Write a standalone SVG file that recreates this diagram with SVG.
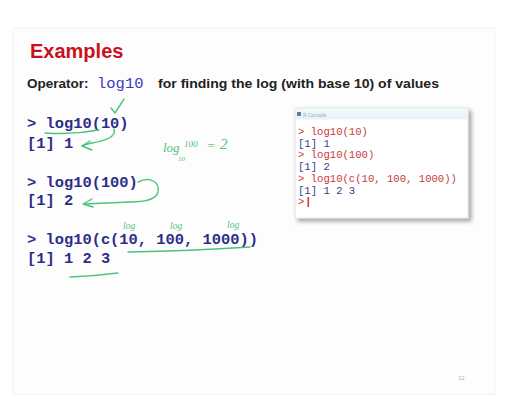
<svg xmlns="http://www.w3.org/2000/svg" width="507" height="403" viewBox="0 0 507 403">
  <defs>
    <filter id="shadow" x="-10%" y="-10%" width="125%" height="130%">
      <feDropShadow dx="3" dy="3" stdDeviation="2" flood-color="#000" flood-opacity="0.35"/>
    </filter>
    <linearGradient id="titlebar" x1="0" y1="0" x2="0" y2="1">
      <stop offset="0" stop-color="#f3fafd"/>
      <stop offset="1" stop-color="#e6f2f8"/>
    </linearGradient>
  </defs>
  <style>
    .title { font-family: "Liberation Sans", Arial, sans-serif; font-weight: bold; font-size: 20px; fill: #c8101e; }
    .body { font-family: "Liberation Sans", Arial, sans-serif; font-weight: bold; font-size: 13.5px; fill: #222; }
    .op { font-family: "Liberation Mono", "Courier New", monospace; font-size: 15.5px; fill: #3a3ac8; }
    .code { font-family: "Liberation Mono", "Courier New", monospace; font-weight: bold; font-size: 15.4px; fill: #2e2e8a; }
    .con { font-family: "Liberation Mono", "Courier New", monospace; font-size: 10.6px; }
    .cmd { fill: #c83a3a; }
    .out { fill: #34408a; }
    .ink { fill: none; stroke: #4cc478; stroke-width: 1.4; stroke-linecap: round; stroke-linejoin: round; }
    .inktxt { font-family: "Liberation Serif", serif; font-style: italic; fill: #4cc478; }
  </style>

  <!-- slide background -->
  <rect x="0" y="0" width="507" height="403" fill="#ffffff"/>
  <rect x="13" y="28" width="482" height="366" fill="#fdfdfd" stroke="#f2f2f2" stroke-width="1"/>

  <!-- heading -->
  <g id="heading">
    <text class="title" x="30" y="58">Examples</text>
    <text class="body" x="27" y="88">Operator:</text>
    <text class="op" x="97" y="88">log10</text>
    <text class="body" x="158" y="88" textLength="281" lengthAdjust="spacingAndGlyphs">for finding the log (with base 10) of values</text>
  </g>

  <!-- code examples -->
  <g id="example1">
    <text class="code" x="27" y="128" xml:space="preserve">&gt; log10(10)</text>
    <text class="code" x="27" y="148">[1] 1</text>
  </g>
  <g id="example2">
    <text class="code" x="27" y="187" xml:space="preserve">&gt; log10(100)</text>
    <text class="code" x="27" y="205">[1] 2</text>
  </g>
  <g id="example3">
    <text class="code" x="27" y="244" xml:space="preserve">&gt; log10(c(10, 100, 1000))</text>
    <text class="code" x="27" y="263" xml:space="preserve">[1] 1 2 3</text>
  </g>

  <!-- R console window -->
  <g id="console">
    <rect x="295" y="108" width="173" height="110" fill="#ffffff" stroke="#d6e4ec" stroke-width="1" filter="url(#shadow)"/>
    <rect x="295.5" y="108.5" width="172" height="11" fill="url(#titlebar)"/>
    <rect x="297" y="112" width="4" height="4" fill="#5a7ea8"/>
    <text x="303" y="116.5" font-family="Liberation Sans, Arial, sans-serif" font-size="5" fill="#9aa8b4">R Console</text>
    <text class="con cmd" x="298" y="135" xml:space="preserve">&gt; log10(10)</text>
    <text class="con out" x="298" y="146.5" xml:space="preserve">[1] 1</text>
    <text class="con cmd" x="298" y="158" xml:space="preserve">&gt; log10(100)</text>
    <text class="con out" x="298" y="170" xml:space="preserve">[1] 2</text>
    <text class="con cmd" x="298" y="182" xml:space="preserve">&gt; log10(c(10, 100, 1000))</text>
    <text class="con out" x="298" y="194" xml:space="preserve">[1] 1 2 3</text>
    <text class="con cmd" x="298" y="205">&gt;</text>
    <rect x="307.5" y="197" width="1.6" height="10" fill="#d23a3a"/>
  </g>

  <!-- pen annotations -->
  <g id="annotations">
    <path class="ink" d="M111,108 L115,113 L124,99"/>
    <path class="ink" d="M45,133 Q72,135 99,130"/>
    <path class="ink" d="M114,129 C117,137 104,141 92,143 Q86,144 82,146"/>
    <path class="ink" d="M90,141 L82,146 L92,150"/>
    <text class="inktxt" x="163" y="152" font-size="13">log</text>
    <text class="inktxt" x="178" y="161" font-size="7">10</text>
    <text class="inktxt" x="184" y="147" font-size="9">100</text>
    <text class="inktxt" x="207" y="150" font-size="12">=</text>
    <text class="inktxt" x="220" y="149" font-size="15">2</text>
    <path class="ink" d="M138,182 C150,176 160,182 158,192 C156,200 145,202 130,202 L84,204"/>
    <path class="ink" d="M92,199 L83,204 L93,207"/>
    <text class="inktxt" x="123" y="229" font-size="9.5">log</text>
    <text class="inktxt" x="170" y="229" font-size="9.5">log</text>
    <text class="inktxt" x="227" y="228" font-size="9.5">log</text>
    <path class="ink" d="M128,252 Q190,251 250,247"/>
    <path class="ink" d="M70,277 Q95,276 118,273"/>
  </g>

  <!-- page number -->
  <text x="458" y="380" font-family="Liberation Sans, Arial, sans-serif" font-size="6" fill="#b8b8b8">12</text>
</svg>
